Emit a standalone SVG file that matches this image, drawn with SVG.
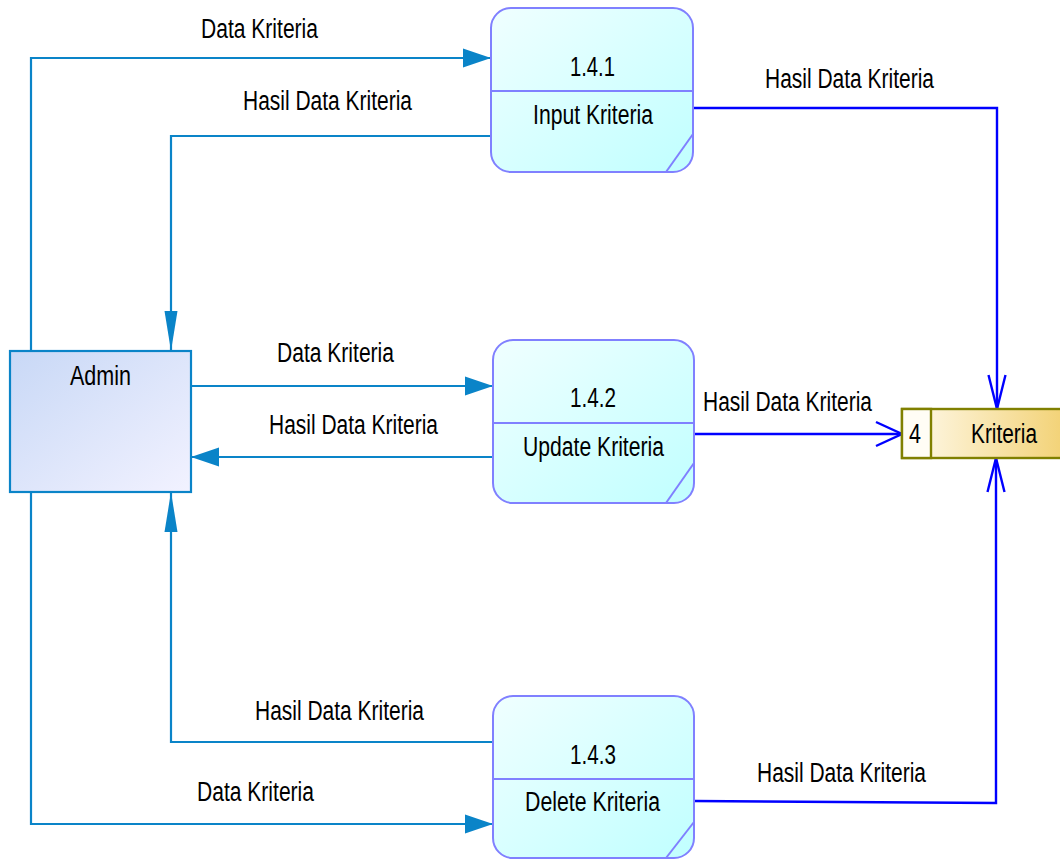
<svg xmlns="http://www.w3.org/2000/svg" width="1060" height="859" viewBox="0 0 1060 859">
<style>
text{font-family:"Liberation Sans",Arial,sans-serif;font-size:27px;fill:#000}
.proc{stroke:#8080ff;stroke-width:2;fill:url(#gp)}
.pl{stroke:#8080ff;stroke-width:2;fill:none}
.c{stroke:#0a84c8;stroke-width:2.2;fill:none}
.b{stroke:#0000ff;stroke-width:2.4;fill:none}
</style>
<defs>
<linearGradient id="gp" x1="0" y1="0" x2="1" y2="1">
<stop offset="0" stop-color="#f0ffff"/>
<stop offset="1" stop-color="#c0ffff"/>
</linearGradient>
<linearGradient id="ga" x1="0" y1="0" x2="1" y2="1">
<stop offset="0" stop-color="#c8d8f6"/>
<stop offset="1" stop-color="#f2f2ff"/>
</linearGradient>
<linearGradient id="gs" x1="0" y1="0" x2="1" y2="0">
<stop offset="0" stop-color="#fffbef"/>
<stop offset="1" stop-color="#f2d070"/>
</linearGradient>
<marker id="fh" markerUnits="userSpaceOnUse" markerWidth="30" markerHeight="22" refX="28" refY="10" orient="auto">
<path d="M0,0.5 L28,10 L0,19.5 Z" fill="#0a84c8"/>
</marker>
<marker id="fv" markerUnits="userSpaceOnUse" markerWidth="42" markerHeight="16" refX="40" refY="7" orient="auto">
<path d="M0,0.5 L40,7 L0,13.5 Z" fill="#0a84c8"/>
</marker>
<marker id="oh" markerUnits="userSpaceOnUse" markerWidth="30" markerHeight="30" refX="27" refY="14" orient="auto">
<path d="M1,2 L27,14 L1,26" fill="none" stroke="#0000ff" stroke-width="2.4"/>
</marker>
<marker id="ov" markerUnits="userSpaceOnUse" markerWidth="38" markerHeight="22" refX="35" refY="11" orient="auto">
<path d="M1,2.5 L35,11 L1,19.5" fill="none" stroke="#0000ff" stroke-width="2.4"/>
</marker>
</defs>
<rect width="1060" height="859" fill="#fff"/>

<g id="connectors">
<path class="c" d="M31,351 V58 H491" marker-end="url(#fh)"/>
<path class="c" d="M491,136 H171 V351" marker-end="url(#fv)"/>
<path class="c" d="M191,386 H493" marker-end="url(#fh)"/>
<path class="c" d="M493,457 H191" marker-end="url(#fh)"/>
<path class="c" d="M493,742 H171 V492" marker-end="url(#fv)"/>
<path class="c" d="M31,492 V824 H493" marker-end="url(#fh)"/>
<path class="b" d="M693,108 H997 V409" marker-end="url(#ov)"/>
<path class="b" d="M694,434 H902" marker-end="url(#oh)"/>
<path class="b" d="M694,801 L996,803 V458" marker-end="url(#ov)"/>
<text x="201" y="38" textLength="117" lengthAdjust="spacingAndGlyphs">Data Kriteria</text>
<text x="243" y="110" textLength="169" lengthAdjust="spacingAndGlyphs">Hasil Data Kriteria</text>
<text x="765" y="88" textLength="169" lengthAdjust="spacingAndGlyphs">Hasil Data Kriteria</text>
<text x="277" y="362" textLength="117" lengthAdjust="spacingAndGlyphs">Data Kriteria</text>
<text x="269" y="434" textLength="169" lengthAdjust="spacingAndGlyphs">Hasil Data Kriteria</text>
<text x="703" y="411" textLength="169" lengthAdjust="spacingAndGlyphs">Hasil Data Kriteria</text>
<text x="255" y="720" textLength="169" lengthAdjust="spacingAndGlyphs">Hasil Data Kriteria</text>
<text x="197" y="801" textLength="117" lengthAdjust="spacingAndGlyphs">Data Kriteria</text>
<text x="757" y="782" textLength="169" lengthAdjust="spacingAndGlyphs">Hasil Data Kriteria</text>
</g>

<g id="p141">
<rect class="proc" x="491" y="8" width="202" height="164" rx="20"/>
<line class="pl" x1="491" y1="91" x2="693" y2="91"/>
<line class="pl" x1="693" y1="134" x2="666" y2="172"/>
<text x="570" y="76" textLength="45" lengthAdjust="spacingAndGlyphs">1.4.1</text>
<text x="533" y="124" textLength="120" lengthAdjust="spacingAndGlyphs">Input Kriteria</text>
</g>

<g id="p142">
<rect class="proc" x="493" y="340" width="201" height="163" rx="20"/>
<line class="pl" x1="493" y1="423" x2="694" y2="423"/>
<line class="pl" x1="694" y1="463" x2="666" y2="503"/>
<text x="570" y="407" textLength="46" lengthAdjust="spacingAndGlyphs">1.4.2</text>
<text x="523" y="456" textLength="141" lengthAdjust="spacingAndGlyphs">Update Kriteria</text>
</g>

<g id="p143">
<rect class="proc" x="493" y="696" width="201" height="162" rx="20"/>
<line class="pl" x1="493" y1="779" x2="694" y2="779"/>
<line class="pl" x1="694" y1="822" x2="666" y2="858"/>
<text x="570" y="764" textLength="46" lengthAdjust="spacingAndGlyphs">1.4.3</text>
<text x="525" y="811" textLength="135" lengthAdjust="spacingAndGlyphs">Delete Kriteria</text>
</g>

<g id="admin">
<rect x="10" y="351" width="181" height="141" fill="url(#ga)" stroke="#0a84c8" stroke-width="2.2"/>
<text x="70" y="385" textLength="61" lengthAdjust="spacingAndGlyphs">Admin</text>
</g>

<g id="store">
<rect x="902" y="409" width="170" height="49" fill="url(#gs)" stroke="#808000" stroke-width="2.4"/>
<rect x="902" y="409" width="29" height="49" fill="#fffdf5" stroke="#808000" stroke-width="2.4"/>
<text x="909" y="443" textLength="12" lengthAdjust="spacingAndGlyphs">4</text>
<text x="971" y="443" textLength="66" lengthAdjust="spacingAndGlyphs">Kriteria</text>
</g>
</svg>
